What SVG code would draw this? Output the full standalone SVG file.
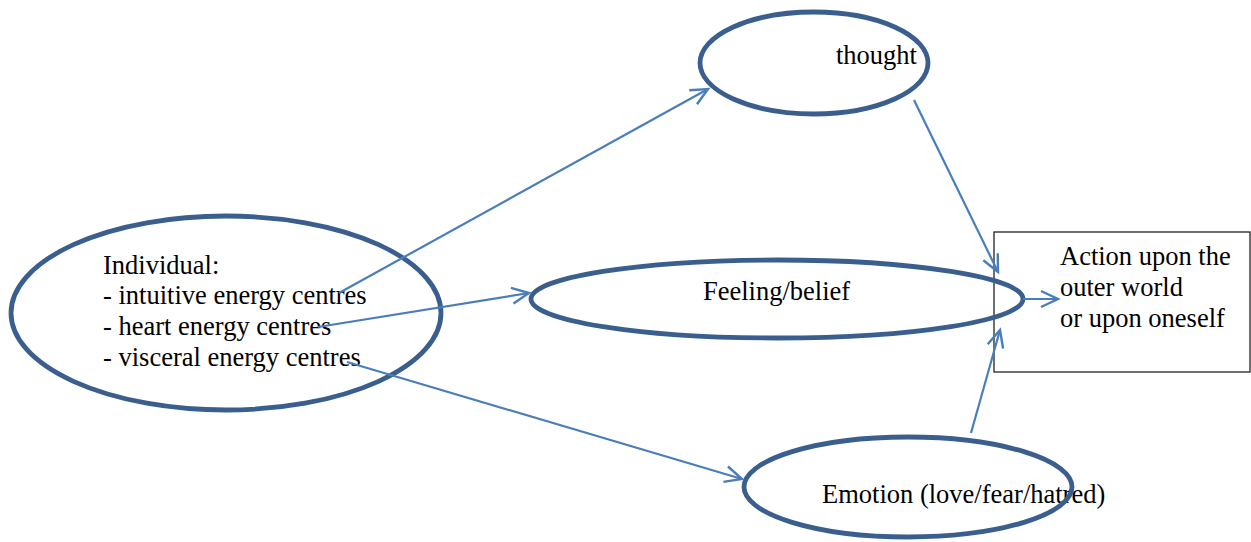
<svg xmlns="http://www.w3.org/2000/svg" width="1251" height="542" viewBox="0 0 1251 542">
<style>
.t{font-family:'Liberation Serif','Times New Roman',Times,serif;font-size:26.5px;fill:#000}
.e{fill:none;stroke:#3a5f8e;stroke-width:4.8}
.c{fill:none;stroke:#4a7ebb;stroke-width:2.2;marker-end:url(#ah)}
</style>
<defs>
<marker id="ah" markerUnits="userSpaceOnUse" orient="auto" refX="0" refY="0" markerWidth="24" markerHeight="24" viewBox="-20 -12 24 24" overflow="visible">
<path d="M-17,-8 L0,0 L-17,8" fill="none" stroke="#4a7ebb" stroke-width="2.4"/>
</marker>
</defs>
<rect width="1251" height="542" fill="#fff"/>
<g id="action">
<rect x="994" y="232" width="256" height="140" fill="none" stroke="#222" stroke-width="1.3"/>
<text class="t" x="1060" y="265">Action upon the</text>
<text class="t" x="1060" y="296">outer world</text>
<text class="t" x="1060" y="327">or upon oneself</text>
</g>
<g id="individual">
<text class="t" x="103" y="274">Individual:</text>
<text class="t" x="103" y="304">- intuitive energy centres</text>
<text class="t" x="103" y="335">- heart energy centres</text>
<text class="t" x="103" y="366">- visceral energy centres</text>
<ellipse class="e" cx="226" cy="313" rx="215" ry="97"/>
</g>
<g id="thought">
<text class="t" x="836" y="64">thought</text>
<ellipse class="e" cx="814" cy="63" rx="114" ry="51"/>
</g>
<g id="feeling">
<text class="t" x="703" y="300">Feeling/belief</text>
<ellipse class="e" cx="777" cy="299" rx="246" ry="39"/>
</g>
<g id="emotion">
<text class="t" x="822" y="503">Emotion (love/fear/hatred)</text>
<ellipse class="e" cx="908" cy="487" rx="164" ry="50"/>
</g>
<g id="connectors">
<line class="c" x1="339" y1="293" x2="708" y2="89"/>
<line class="c" x1="318" y1="327" x2="529" y2="293"/>
<line class="c" x1="347" y1="362" x2="742" y2="479"/>
<line class="c" x1="914" y1="100" x2="998" y2="272"/>
<line class="c" x1="1023" y1="299" x2="1058" y2="299"/>
<line class="c" x1="971" y1="433" x2="1000" y2="330"/>
</g>
</svg>
